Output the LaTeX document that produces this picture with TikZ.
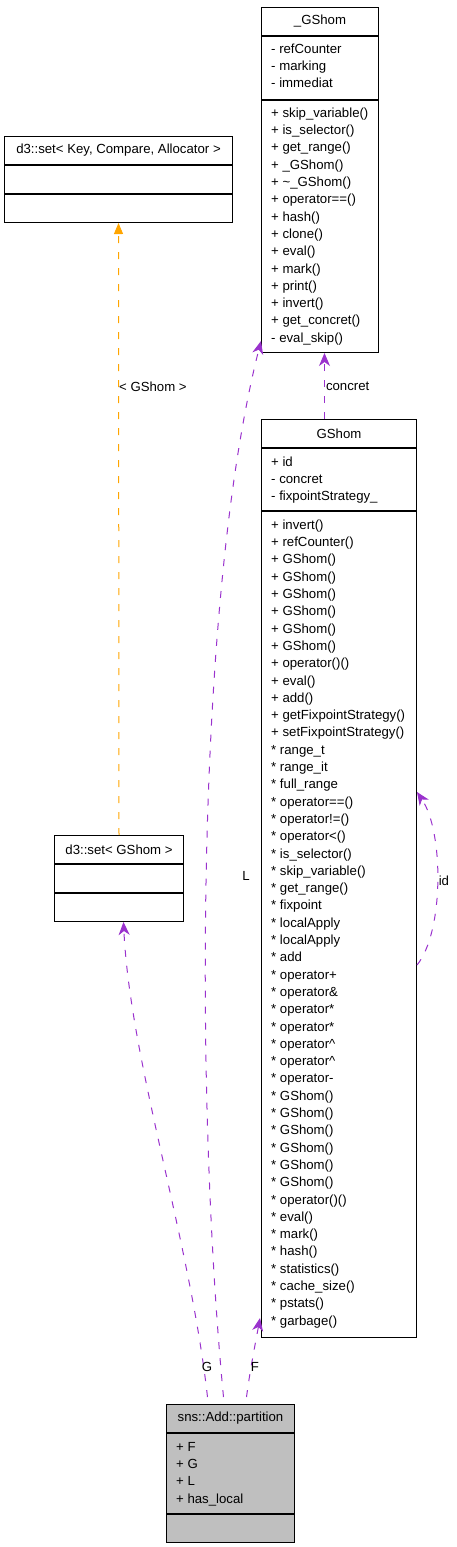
\documentclass[tikz,border=0pt]{standalone}
\usepackage{fontspec}
\setmainfont{Liberation Sans}
\usetikzlibrary{arrows.meta}
\definecolor{usecolor}{HTML}{9A32CD}
\definecolor{tplcolor}{HTML}{FFA500}
\definecolor{focusfill}{HTML}{BFBFBF}
\newcommand{\umlfont}{\fontsize{13.2}{17.3}\selectfont}
\tikzset{
  cls/.style={draw=black, line width=1pt, inner sep=0pt, font=\umlfont},
  members/.style={anchor=north west, inner sep=0pt, align=left, font=\umlfont},
  uses/.style={draw=usecolor, line width=1pt, dash pattern=on 7pt off 9pt, -{Stealth[length=13pt,width=11pt,inset=4pt]}},
  tpl/.style={draw=tplcolor, line width=1pt, dash pattern=on 7pt off 9pt, -{Triangle[length=11pt,width=9pt]}},
  lbl/.style={font=\umlfont, inner sep=0pt}
}
\begin{document}
\begin{tikzpicture}[x=1pt,y=-1pt]
\useasboundingbox (0,0) rectangle (456,1547);
% _GShom
\node[cls, minimum width=117pt, minimum height=28pt, anchor=north west] (baseTitle) at (261,7) {\_GShom};
\node[cls, minimum width=117pt, minimum height=63pt, anchor=north] (baseAttr) at (baseTitle.south) {};
\node[cls, minimum width=117pt, minimum height=252pt, anchor=north] (baseOps) at (baseAttr.south) {};
\node[members] at ([xshift=10pt,yshift=-5pt]baseAttr.north west) {\strut- refCounter\\- marking\\- immediat};
\node[members] at ([xshift=10pt,yshift=-5pt]baseOps.north west) {\strut+ skip\_variable()\\+ is\_selector()\\+ get\_range()\\+ \_GShom()\\+ \textasciitilde\_GShom()\\+ operator==()\\+ hash()\\+ clone()\\+ eval()\\+ mark()\\+ print()\\+ invert()\\+ get\_concret()\\- eval\_skip()};
% d3::set< Key, Compare, Allocator >
\node[cls, minimum width=228pt, minimum height=28pt, anchor=north west] (setTitle) at (4,136) {d3::set< Key, Compare, Allocator >};
\node[cls, minimum width=228pt, minimum height=28pt, anchor=north] (setAttr) at (setTitle.south) {};
\node[cls, minimum width=228pt, minimum height=28pt, anchor=north] (setOps) at (setAttr.south) {};
% GShom
\node[cls, minimum width=155pt, minimum height=28pt, anchor=north west] (gshTitle) at (261,419) {GShom};
\node[cls, minimum width=155pt, minimum height=62pt, anchor=north] (gshAttr) at (gshTitle.south) {};
\node[cls, minimum width=155pt, minimum height=826pt, anchor=north] (gshOps) at (gshAttr.south) {};
\node[members] at ([xshift=10pt,yshift=-6pt]gshAttr.north west) {\strut+ id\\- concret\\- fixpointStrategy\_};
\node[members] at ([xshift=10pt,yshift=-6pt]gshOps.north west) {\strut+ invert()\\+ refCounter()\\+ GShom()\\+ GShom()\\+ GShom()\\+ GShom()\\+ GShom()\\+ GShom()\\+ operator()()\\+ eval()\\+ add()\\+ getFixpointStrategy()\\+ setFixpointStrategy()\\* range\_t\\* range\_it\\* full\_range\\* operator==()\\* operator!=()\\* operator<()\\* is\_selector()\\* skip\_variable()\\* get\_range()\\* fixpoint\\* localApply\\* localApply\\* add\\* operator+\\* operator\&\\* operator*\\* operator*\\* operator\textasciicircum\\* operator\textasciicircum\\* operator-\\* GShom()\\* GShom()\\* GShom()\\* GShom()\\* GShom()\\* GShom()\\* operator()()\\* eval()\\* mark()\\* hash()\\* statistics()\\* cache\_size()\\* pstats()\\* garbage()};
% d3::set< GShom >
\node[cls, minimum width=129pt, minimum height=28pt, anchor=north west] (gsetTitle) at (54,835) {d3::set< GShom >};
\node[cls, minimum width=129pt, minimum height=28pt, anchor=north] (gsetAttr) at (gsetTitle.south) {};
\node[cls, minimum width=129pt, minimum height=28pt, anchor=north] (gsetOps) at (gsetAttr.south) {};
% sns::Add::partition
\node[cls, fill=focusfill, minimum width=128pt, minimum height=28pt, anchor=north west] (partTitle) at (166,1404) {sns::Add::partition};
\node[cls, fill=focusfill, minimum width=128pt, minimum height=80pt, anchor=north] (partAttr) at (partTitle.south) {};
\node[cls, fill=focusfill, minimum width=128pt, minimum height=28pt, anchor=north] (partOps) at (partAttr.south) {};
\node[members] at ([xshift=10pt,yshift=-6pt]partAttr.north west) {\strut+ F\\+ G\\+ L\\+ has\_local};
% relations
\draw[tpl] (gsetTitle.north) -- (setOps.south) node[lbl, pos=0.733, anchor=west] {< GShom >};
\draw[uses] ([xshift=-14.5pt]gshTitle.north) -- ([xshift=4.5pt]baseOps.south) node[lbl, midway, anchor=west, xshift=1pt] {concret};
\draw[uses] ([yshift=-454pt]gshOps.north east) .. controls +(27,-33) and +(27,40) .. ([yshift=-281pt]gshOps.north east) node[lbl, pos=0.5, anchor=west, xshift=1pt] {id};
\draw[uses] ([xshift=-7pt,yshift=7pt]partTitle.north) .. controls (195,1100) and (195,600) .. ([yshift=12pt]baseOps.south west) node[lbl] at (246,876) {L};
\draw[uses] ([xshift=-23pt,yshift=7pt]partTitle.north) .. controls (190,1240) and (130,1060) .. ([xshift=4.5pt]gsetOps.south) node[lbl] at (207,1367) {G};
\draw[uses] ([xshift=16pt,yshift=7pt]partTitle.north) .. controls (250,1370) and (256,1340) .. ([xshift=-1pt,yshift=20pt]gshOps.south west) node[lbl] at (255,1367) {F};
\end{tikzpicture}
\end{document}
